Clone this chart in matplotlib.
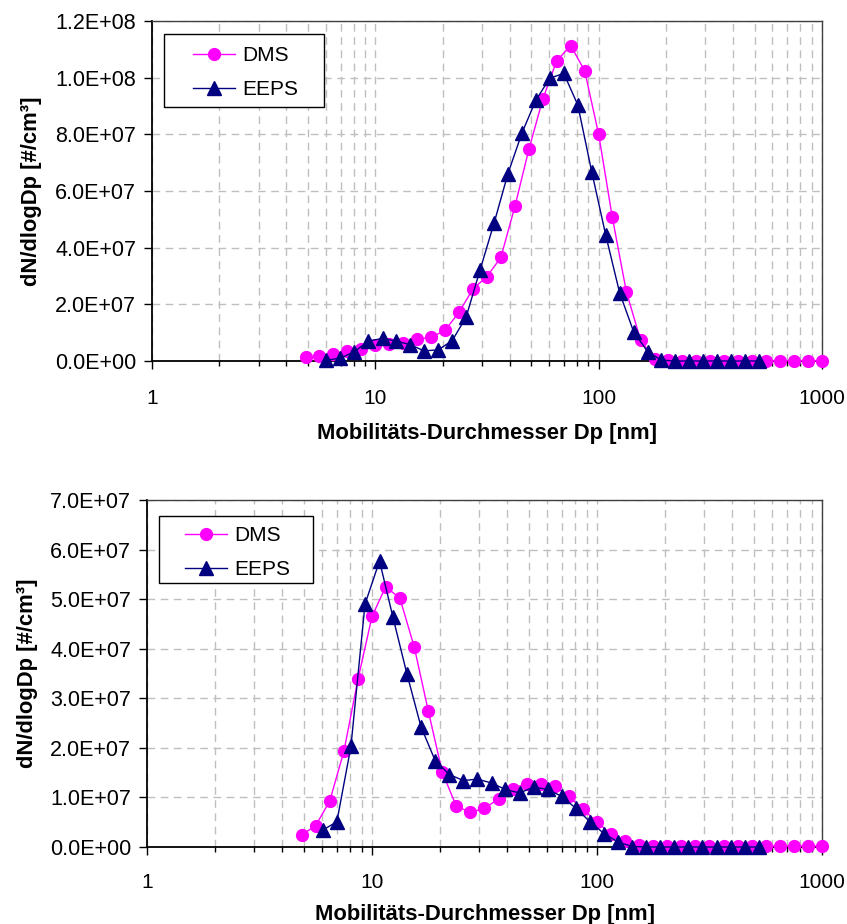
import matplotlib
matplotlib.use("Agg")
import matplotlib.pyplot as plt
from matplotlib.patches import Rectangle
from matplotlib.ticker import FixedLocator, FuncFormatter, NullFormatter, LogLocator

plt.rcParams['font.family'] = ['Liberation Sans', 'DejaVu Sans']

# channel mid-diameters [nm]
dms_dp = [4.87, 5.62, 6.49, 7.50, 8.66, 10.0, 11.5, 13.3, 15.4, 17.8,
          20.5, 23.7, 27.4, 31.6, 36.5, 42.2, 48.7, 56.2, 64.9, 75.0,
          86.6, 100, 115, 133, 154, 178, 205, 237, 274, 316,
          365, 422, 487, 562, 649, 750, 866, 1000]
eeps_dp = [6.04, 6.98, 8.06, 9.31, 10.8, 12.4, 14.3, 16.5, 19.1, 22.1,
           25.5, 29.4, 34.0, 39.2, 45.3, 52.3, 60.4, 69.8, 80.6, 93.1,
           107.5, 124.1, 143.3, 165.5, 191.1, 220.7, 254.8, 294.3, 339.8, 392.4,
           453.2, 523.3]

# top panel
dms_top = [1.3e6, 1.7e6, 2.6e6, 3.5e6, 4.4e6, 5.6e6, 6.0e6, 6.5e6, 7.8e6, 8.3e6,
           1.08e7, 1.72e7, 2.55e7, 2.98e7, 3.66e7, 5.47e7, 7.47e7, 9.24e7, 1.06e8, 1.113e8,
           1.024e8, 8.0e7, 5.09e7, 2.45e7, 7.4e6, 6e5, 2e5, 1e5, 1e5, 1e5,
           1e5, 1e5, 1e5, 1e5, 1e5, 1e5, 1e5, 1e5]
eeps_top = [3e5, 1.0e6, 3.3e6, 7.0e6, 8.0e6, 7.0e6, 5.8e6, 3.6e6, 3.9e6, 7.2e6,
            1.55e7, 3.2e7, 4.86e7, 6.6e7, 8.04e7, 9.2e7, 9.98e7, 1.015e8, 9.04e7, 6.68e7,
            4.45e7, 2.41e7, 1.04e7, 3.3e6, 3e5, 0, 0, 0, 0, 0,
            0, 0]

# bottom panel
dms_bot = [2.43e6, 4.3e6, 9.3e6, 1.93e7, 3.38e7, 4.65e7, 5.25e7, 5.02e7, 4.04e7, 2.74e7,
           1.52e7, 8.2e6, 7.0e6, 7.8e6, 9.7e6, 1.18e7, 1.28e7, 1.28e7, 1.23e7, 1.02e7,
           7.6e6, 5.1e6, 2.6e6, 1.3e6, 5e5, 3e5, 2e5, 2e5, 2e5, 2e5,
           2e5, 2e5, 2e5, 2e5, 2e5, 2e5, 2e5, 2e5]
eeps_bot = [3.4e6, 5.1e6, 2.03e7, 4.9e7, 5.77e7, 4.63e7, 3.49e7, 2.43e7, 1.74e7, 1.46e7,
            1.34e7, 1.37e7, 1.29e7, 1.16e7, 1.09e7, 1.21e7, 1.16e7, 1.02e7, 7.8e6, 5.1e6,
            2.7e6, 1.0e6, 1e5, 0, 0, 0, 0, 0, 0, 0,
            0, 0]

xticks = [1, 10, 100, 1000]
xlabel = "Mobilitäts-Durchmesser Dp [nm]"
ylabel = "dN/dlogDp [#/cm³]"

W, H = 847, 924
fig = plt.figure(figsize=(W / 100, H / 100), dpi=100)
ax1 = fig.add_axes([152 / W, 1 - 361 / H, 670 / W, 340 / H])
ax2 = fig.add_axes([147 / W, 1 - 847 / H, 675 / W, 347 / H])

# axes, ymax, ystep, x tick pad, x labelpad, y labelpad, legend box (px), legend anchor (px)
panels = [
    (ax1, dms_top, eeps_top, 1.2e8, 2e7, 14.0, 11.0, 9.5, (164, 34, 324, 107), (193, 46)),
    (ax2, dms_bot, eeps_bot, 7e7, 1e7, 12.5, 9.0, 8.5, (159, 516, 313, 583), (185, 526)),
]

for ax, dms, eeps, ymax, ystep, xpad, xlpad, ylpad, box, anchor in panels:
    ax.plot(dms_dp, dms, color='#FF00FF', lw=1.0, marker='o', ms=8.5,
            mec='#FF00FF', mfc='#FF00FF', label='DMS', clip_on=False, zorder=3)
    ax.plot(eeps_dp, eeps, color='#000080', lw=1.0, marker='^', ms=10,
            mec='#000080', mfc='#000080', label='EEPS', clip_on=False, zorder=4)
    ax.set_xscale('log')
    ax.set_xlim(1, 1000)
    ax.set_ylim(0, ymax)
    ax.xaxis.set_major_locator(FixedLocator(xticks))
    ax.xaxis.set_major_formatter(FuncFormatter(lambda v, p: '%g' % v))
    ax.xaxis.set_minor_locator(LogLocator(base=10, subs=range(2, 10)))
    ax.xaxis.set_minor_formatter(NullFormatter())
    n = int(round(ymax / ystep))
    ax.set_yticks([i * ystep for i in range(n + 1)])
    ax.yaxis.set_major_formatter(FuncFormatter(lambda v, p: '%.1E' % v))
    ax.grid(True, which='major', axis='y', color='#BFBFBF', lw=1, linestyle=(0, (5.5, 4)))
    ax.grid(True, which='both', axis='x', color='#BFBFBF', lw=1, linestyle=(0, (5.5, 4)))
    ax.set_axisbelow(True)
    ax.tick_params(axis='x', which='major', direction='out', length=6, width=1,
                   labelsize=15, pad=xpad)
    ax.tick_params(axis='x', which='minor', direction='out', length=3.5, width=1)
    ax.tick_params(axis='y', which='major', direction='out', length=5.5, width=1,
                   labelsize=15.5, pad=6)
    for s in ['left', 'bottom']:
        ax.spines[s].set_linewidth(1.3)
        ax.spines[s].set_color('black')
    for s in ['top', 'right']:
        ax.spines[s].set_linewidth(1.0)
        ax.spines[s].set_color('#404040')
    ax.set_xlabel(xlabel, fontsize=15.8, fontweight='bold', labelpad=xlpad)
    ax.set_ylabel(ylabel, fontsize=15.8, fontweight='bold', labelpad=ylpad)

    x0, y0, x1, y1 = box
    ax.add_patch(Rectangle((x0 / W, 1 - y1 / H), (x1 - x0) / W, (y1 - y0) / H,
                           transform=fig.transFigure, facecolor='white',
                           edgecolor='black', lw=1.0, zorder=6, clip_on=False))
    leg = ax.legend(loc='upper left', bbox_to_anchor=(anchor[0] / W, 1 - anchor[1] / H),
                    bbox_transform=fig.transFigure, fontsize=15, frameon=False,
                    handlelength=2.0, handletextpad=0.35, borderpad=0,
                    labelspacing=0.72, borderaxespad=0)
    leg.set_zorder(7)

fig.savefig('out.png', dpi=100)
